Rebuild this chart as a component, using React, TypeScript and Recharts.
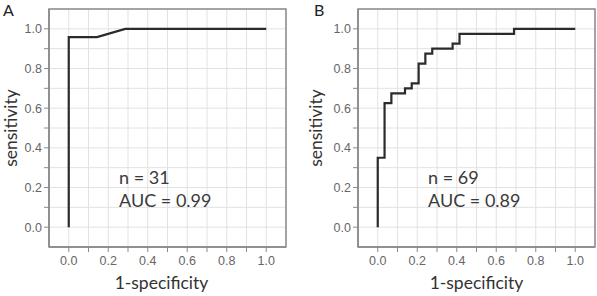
import React from 'react';
import { LineChart, Line, XAxis, YAxis, CartesianGrid, ReferenceArea, ReferenceDot } from 'recharts';

const fprA = [0, 0, 0.143, 0.286, 1.0];
const tprA = [0, 0.958, 0.958, 1.0, 1.0];
const fprB = [0, 0, 0.0345, 0.069, 0.138, 0.172, 0.207, 0.241, 0.276, 0.379, 0.414, 0.69, 1.0];
const tprB = [0, 0.35, 0.625, 0.675, 0.7, 0.725, 0.825, 0.875, 0.9, 0.925, 0.975, 1.0, 1.0];
const axisTicks = [0, 0.1, 0.2, 0.3, 0.4, 0.5, 0.6, 0.7, 0.8, 0.9, 1.0];
const panelLabels = ['A', 'B'];
const nTexts = ['n = 31', 'n = 69'];
const aucTexts = ['AUC = 0.99', 'AUC = 0.89'];
const xTitle = '1-specificity';
const yTitle = 'sensitivity';

const FONT = 'Lato, "Open Sans", sans-serif';
const TICK_FONT = '"Liberation Sans", Arial, sans-serif';
const GRAY = '#8a8a8a';

const isMajor = (v: number) => Math.round(v * 10) % 2 === 0;

const XTick = (props: any) => {
  const { x, y, payload } = props;
  if (!isMajor(payload.value)) return <g />;
  return (
    <text x={x} y={y + 11} textAnchor="middle" fontSize={12.5} fill="#666" fontFamily={TICK_FONT}>
      {Number(payload.value).toFixed(1)}
    </text>
  );
};

const YTick = (props: any) => {
  const { x, y, payload } = props;
  if (!isMajor(payload.value)) return <g />;
  return (
    <text x={x} y={y + 4.5} textAnchor="end" fontSize={12.5} fill="#666" fontFamily={TICK_FONT}>
      {Number(payload.value).toFixed(1)}
    </text>
  );
};

type PanelProps = {
  idx: number;
  left: number;
  width: number;
  yAxisWidth: number;
  marginRight: number;
  fpr: number[];
  tpr: number[];
  curve: 'linear' | 'stepAfter';
  yTitleX: number;
  xTitleDx: number;
};

const Panel = ({ idx, left, width, yAxisWidth, marginRight, fpr, tpr, curve, yTitleX, xTitleDx }: PanelProps) => {
  const data = fpr.map((x, i) => ({ x, y: tpr[i] }));
  const height = 296;
  const plotLeft = yAxisWidth;
  const plotRight = width - marginRight;
  const plotTop = 9;
  const plotBottom = 247;
  return (
    <div style={{ position: 'absolute', left, top: 0, width, height }}>
      <LineChart width={width} height={height} data={data} margin={{ top: plotTop, right: marginRight, bottom: 0, left: 0 }}>
        <CartesianGrid stroke="#e2e2e2" strokeWidth={1} />
        <XAxis
          dataKey="x"
          type="number"
          domain={[-0.1, 1.1]}
          allowDataOverflow
          ticks={axisTicks}
          interval={0}
          height={height - plotBottom - 0}
          tickSize={5}
          tickMargin={2}
          tick={<XTick />}
          axisLine={{ stroke: GRAY, strokeWidth: 1.5 }}
          tickLine={{ stroke: GRAY }}
        />
        <YAxis
          type="number"
          domain={[-0.1, 1.1]}
          allowDataOverflow
          ticks={axisTicks}
          interval={0}
          width={yAxisWidth}
          tickSize={5}
          tickMargin={2}
          tick={<YTick />}
          axisLine={{ stroke: GRAY, strokeWidth: 1.5 }}
          tickLine={{ stroke: GRAY }}
        />
        <ReferenceArea x1={-0.1} x2={1.1} y1={-0.1} y2={1.1} fill="none" stroke={GRAY} strokeWidth={1.5} ifOverflow="visible" />
        <Line
          type={curve}
          dataKey="y"
          stroke="#2b2b2b"
          strokeWidth={2.2}
          dot={false}
          activeDot={false}
          isAnimationActive={false}
        />
        <ReferenceDot
          x={0.255}
          y={0.217}
          r={0}
          fill="none"
          stroke="none"
          label={(p: any) => (
            <text x={p.viewBox.x} y={p.viewBox.y} fontSize={18} fill="#3a3a3a" fontFamily={FONT}>
              {nTexts[idx]}
            </text>
          )}
        />
        <ReferenceDot
          x={0.255}
          y={0.1}
          r={0}
          fill="none"
          stroke="none"
          label={(p: any) => (
            <text x={p.viewBox.x} y={p.viewBox.y} fontSize={18} fill="#3a3a3a" fontFamily={FONT}>
              {aucTexts[idx]}
            </text>
          )}
        />
      </LineChart>
      <svg width={width} height={height} style={{ position: 'absolute', left: 0, top: 0, pointerEvents: 'none' }}>
        <text x={idx === 0 ? 3 : 14} y={16} fontSize={16} fill="#222" fontFamily={FONT}>
          {panelLabels[idx]}
        </text>
        <text
          x={yTitleX}
          y={(plotTop + plotBottom) / 2}
          transform={`rotate(-90 ${yTitleX} ${(plotTop + plotBottom) / 2})`}
          textAnchor="middle"
          dominantBaseline="central"
          fontSize={17.5}
          fill="#333"
          fontFamily={FONT}
        >
          {yTitle}
        </text>
        <text
          x={(plotLeft + plotRight) / 2 + xTitleDx}
          y={289}
          textAnchor="middle"
          fontSize={17.5}
          fill="#333"
          fontFamily={FONT}
        >
          {xTitle}
        </text>
      </svg>
    </div>
  );
};

export default function App() {
  return (
    <div style={{ position: 'absolute', left: 0, top: 0, width: 597, height: 296, background: '#fff' }}>
      <Panel idx={0} left={0} width={298} yAxisWidth={49} marginRight={12} fpr={fprA} tpr={tprA} curve="linear" yTitleX={10} xTitleDx={-6} />
      <Panel idx={1} left={300} width={297} yAxisWidth={58} marginRight={2} fpr={fprB} tpr={tprB} curve="stepAfter" yTitleX={15} xTitleDx={0} />
    </div>
  );
}
